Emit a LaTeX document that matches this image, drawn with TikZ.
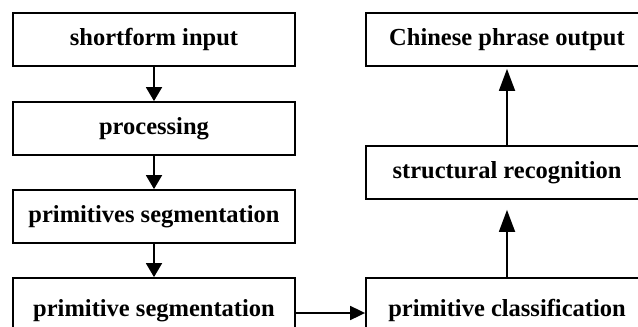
\documentclass[tikz,border=0pt]{standalone}
\usepackage{fontspec}
\setmainfont{Liberation Serif}
\usepackage{tikz}
\usetikzlibrary{arrows.meta,shapes}

\begin{document}
\begin{tikzpicture}
  [x=1pt,y=-1pt,line width=1.8pt,
   every node/.style={draw,rectangle,minimum width=282pt,minimum height=53pt,
     inner sep=0pt,font=\fontsize{24.5}{29}\selectfont\bfseries}]
  \path[use as bounding box,clip] (0,0) rectangle (638,327);
  \node (input) at (154,39.5) {shortform input};
  \node (proc)  at (154,128.5) {processing};
  \node (prims) at (154,216.5) {primitives segmentation};
  \node[minimum height=65pt] (prim) at (154,310.5) {primitive segmentation};
  \node (out)   at (507,39.5) {Chinese phrase output};
  \node (struc) at (507,172.5) {structural recognition};
  \node[minimum height=65pt] (cls) at (507,310.5) {primitive classification};

  \draw[arrows={-{Triangle[length=14pt,width=16pt]}}] (input) to (proc);
  \draw[arrows={-{Triangle[length=14pt,width=16pt]}}] (proc) to (prims);
  \draw[arrows={-{Triangle[length=14pt,width=16pt]}}] (prims) to (prim);
  \draw[arrows={-{Triangle[length=15pt,width=14pt]}}] ([yshift=-2.5pt]prim.east) to ([yshift=-2.5pt]cls.west);
  \draw[arrows={-{Triangle[length=22pt,width=16pt]}},shorten >=10pt] (cls) to (struc);
  \draw[arrows={-{Triangle[length=22pt,width=16pt]}},shorten >=2pt] (struc) to (out);
\end{tikzpicture}
\end{document}
